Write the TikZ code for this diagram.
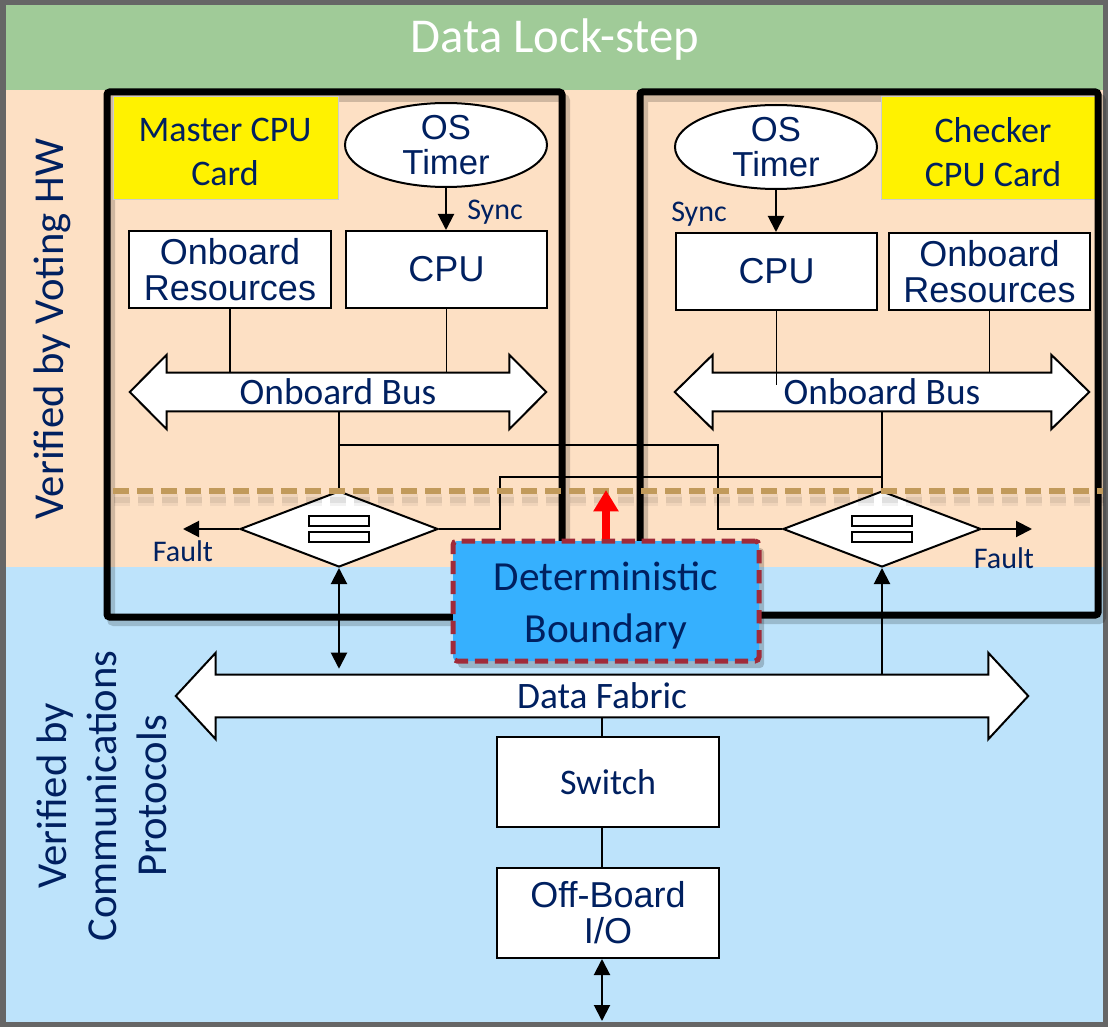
\documentclass[tikz,border=0pt]{standalone}
\usepackage{fontspec}
\newfontfamily\calfont{Carlito}
\newfontfamily\arifont{Liberation Sans}
\usetikzlibrary{shapes.geometric,arrows.meta,calc}
\definecolor{bggray}{HTML}{666666}
\definecolor{lsgreen}{HTML}{A0CB98}
\definecolor{peach}{HTML}{FDE0C4}
\definecolor{lblue}{HTML}{BDE3FB}
\definecolor{navy}{HTML}{002060}
\definecolor{detblue}{HTML}{36B0FE}
\definecolor{detred}{HTML}{A02B3A}
\definecolor{tanline}{HTML}{C19A5B}
\newdimen\pxu \pxu=0.75pt
\newcommand{\dblarrowpath}[3]{%
  \draw[busshape] (#1.north west) -- ($(#1.north west)+(0,-#2)$) -- ($(#1.west)+(-#3,0)$)
    -- ($(#1.south west)+(0,#2)$) -- (#1.south west) -- (#1.south east)
    -- ($(#1.south east)+(0,#2)$) -- ($(#1.east)+(#3,0)$) -- ($(#1.north east)+(0,-#2)$)
    -- (#1.north east) -- cycle;}
\begin{document}
\begin{tikzpicture}[x=0.75pt,y=-0.75pt,
  lbl/.style={text=navy, inner sep=0pt},
  boxnode/.style={draw=black, line width=1.5pt, fill=white, inner sep=0pt, text=navy, align=center,
    font=\arifont\fontsize{27}{27}\selectfont},
  busshape/.style={draw=black, line width=1.5pt, fill=white},
  ghost/.style={inner sep=0pt},
  conn/.style={line width=1.1pt},
  arr/.style={line width=1.5pt, -{Triangle[length=12pt,width=12pt]}},
  darr/.style={line width=1.5pt, {Triangle[length=12pt,width=12pt]}-{Triangle[length=12pt,width=12pt]}},
  card/.style={line width=5.25pt, rounded corners=2pt},
  cardshadow/.style={line width=6pt, black, opacity=0.18, rounded corners=2pt},
  labelbox/.style={fill=yellow, draw=gray!40, line width=0.75pt, inner sep=0pt},
  labeltext/.style={lbl, align=center, font=\calfont\fontsize{27}{32.5}\selectfont},
  timer/.style={ellipse, draw=black, line width=1.5pt, fill=white, inner sep=0pt, text=navy, align=center,
    minimum width=202\pxu, minimum height=84\pxu, font=\arifont\fontsize{26}{26}\selectfont},
  voter/.style={diamond, draw=black, line width=1.5pt, fill=white, inner sep=0pt,
    minimum width=198\pxu, minimum height=76\pxu},
  bustext/.style={lbl, font=\calfont\fontsize{28}{28}\selectfont},
  small/.style={lbl, font=\calfont\fontsize{22.5}{22.5}\selectfont, anchor=base},
  sidetext/.style={lbl, rotate=90, align=center, font=\calfont\fontsize{32}{37.5}\selectfont}
]
\useasboundingbox (0,0) rectangle (1108,1027);
% backgrounds
\fill[bggray] (0,0) rectangle (1108,1027);
\fill[lsgreen] (6,5) rectangle (1103,90);
\fill[peach] (6,90) rectangle (1103,567);
\fill[lblue] (6,567) rectangle (1103,1022);
\node[lbl, text=white, anchor=base, font=\calfont\fontsize{36.5}{40}\selectfont] (title) at (555,53) {Data Lock-step};
\node[sidetext] (vhw) at (52,329) {Verified by Voting HW};
\node[sidetext] (vcp) at (102,796) {Verified by\\Communications\\Protocols};

% card shadows
\draw[cardshadow] (111,98) rectangle (566,622);
\draw[cardshadow] (644,98) rectangle (1102,620);

% labels
\node[labelbox, minimum width=225\pxu, minimum height=103\pxu] (mlab) at (225.5,148.5) {};
\node[labeltext] (mlabt) at (225,152) {Master CPU\\Card};
\node[labelbox, minimum width=219\pxu, minimum height=103\pxu] (clab) at (990.5,148.5) {};
\node[labeltext] (clabt) at (993,152) {Checker\\CPU Card};

% timers and boxes
\node[timer] (lTimer) at (446,145) {OS\\Timer};
\node[timer] (rTimer) at (776,147) {OS\\Timer};
\node[boxnode, minimum width=202\pxu, minimum height=77\pxu] (lRes) at (230,269.5) {Onboard\\Resources};
\node[boxnode, minimum width=201\pxu, minimum height=77\pxu] (lCPU) at (446.5,269.5) {CPU};
\node[boxnode, minimum width=201\pxu, minimum height=77\pxu] (rCPU) at (776.5,271.5) {CPU};
\node[boxnode, minimum width=201\pxu, minimum height=77\pxu] (rRes) at (989.5,271.5) {Onboard\\Resources};

\draw[arr] (lTimer.south) -- (lTimer.south |- lCPU.north);
\draw[arr] (rTimer.south) -- (rTimer.south |- rCPU.north);
\node[small] (lsync) at (495,220) {Sync};
\node[small] (rsync) at (699,222) {Sync};

% onboard buses
\node[ghost, minimum width=342\pxu, minimum height=38\pxu] (lbus) at (338,392) {};
\node[ghost, minimum width=338\pxu, minimum height=38\pxu] (rbus) at (882,392) {};
\draw[conn] (lRes.south) -- (lRes.south |- lbus.north);
\draw[conn] (lCPU.south) -- (lCPU.south |- lbus.north);
\draw[conn] (rRes.south) -- (rRes.south |- rbus.north);
\dblarrowpath{lbus}{18}{37}
\dblarrowpath{rbus}{18}{38}
\draw[conn] (rCPU.south) -- ($(rCPU.south |- rbus.north)+(0,12)$);
\node[bustext] (lbust) at (lbus) {Onboard Bus};
\node[bustext] (rbust) at (rbus) {Onboard Bus};

% voters
\node[voter] (ldiam) at (339,529) {};
\node[voter] (rdiam) at (882,529) {};
\coordinate (lsplit) at (339,445);
\coordinate (rsplit) at (882,477);
\draw[conn] (lbus.south -| ldiam.north) -- (ldiam.north);
\draw[conn] (rbus.south) -- (rdiam.north);
\draw[conn] (lsplit) -| (718,529) -- (rdiam.west);
\draw[conn] (rsplit) -| (500,529) -- (ldiam.east);
\foreach \d in {ldiam,rdiam}{
  \draw[line width=1.5pt, fill=white] ($(\d)+(-30,-13)$) rectangle ($(\d)+(30,-3)$);
  \draw[line width=1.5pt, fill=white] ($(\d)+(-30,3)$) rectangle ($(\d)+(30,13)$);
}
\coordinate (lfault) at (183,529);
\coordinate (rfault) at (1032,529);
\draw[arr] (ldiam.west) -- (lfault);
\draw[arr] (rdiam.east) -- (rfault);
\node[small] (lfaultt) at (183,561) {Fault};
\node[small] (rfaultt) at (1004,568) {Fault};

% data fabric
\node[ghost, minimum width=772\pxu, minimum height=42\pxu] (fab) at (602,696) {};

% cards
\draw[card] (107,92) rectangle (562,617);
\draw[card] (640,92) rectangle (1098,615);

% dashed boundary
\coordinate (dashl) at (113,491);
\coordinate (dashr) at (1103,491);
\draw[black, opacity=0.05, line width=9pt, dash pattern=on 12pt off 6pt] ($(dashl)+(1,9)$) -- ($(dashr)+(1,9)$);
\draw[black, opacity=0.07, line width=5pt, dash pattern=on 12pt off 6pt] ($(dashl)+(1,9)$) -- ($(dashr)+(1,9)$);
\draw[tanline, line width=4.5pt, dash pattern=on 12pt off 6pt] (dashl) -- (dashr);

% fabric arrows
\dblarrowpath{fab}{22}{40}
\node[bustext] (fabt) at (fab) {Data Fabric};
\draw[darr] (ldiam.south) -- ($(ldiam.south |- fab.north)+(0,-6)$);
\draw[arr] (rdiam.south |- fab.north) -- (rdiam.south);

% deterministic boundary
\fill[black, opacity=0.2, rounded corners=3pt] (458,548) rectangle (764,668);
\node[draw=detred, line width=3.75pt, dash pattern=on 10pt off 5pt, fill=detblue, rounded corners=3pt,
  minimum width=306\pxu, minimum height=120\pxu, inner sep=0pt] (det) at (606,601) {};
\node[lbl, align=center, font=\calfont\fontsize{31}{39}\selectfont] (dett) at (606,606) {Deterministic\\Boundary};
\coordinate (dtop) at (606,490);
\draw[red, line width=6pt, -{Triangle[length=16pt,width=18pt]}] (det.north) -- (dtop);

% switch and I/O
\node[boxnode, minimum width=222\pxu, minimum height=90\pxu, font=\calfont\fontsize{27}{27}\selectfont] (switch) at (608,782) {Switch};
\node[boxnode, minimum width=222\pxu, minimum height=90\pxu] (io) at (608,913) {Off-Board\\I/O};
\coordinate (iobot) at (602,1021);
\draw[conn] (fab.south) -- (fab.south |- switch.north);
\draw[conn] (fab.south |- switch.south) -- (fab.south |- io.north);
\draw[darr] (fab.south |- io.south) -- (iobot);
\end{tikzpicture}
\end{document}
